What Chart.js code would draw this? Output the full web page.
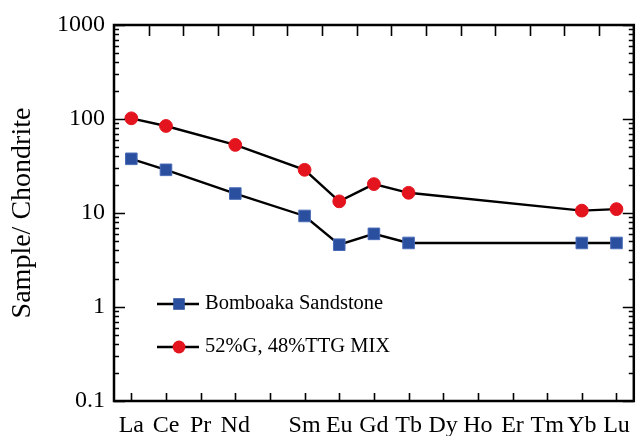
<!DOCTYPE html>
<html>
<head>
<meta charset="utf-8">
<script src="https://cdn.jsdelivr.net/npm/chart.js@4"></script>
<style>
html,body{margin:0;padding:0;background:#fff;}
#wrap{width:643px;height:436px;}
</style>
</head>
<body>
<div id="wrap"><canvas id="c" width="643" height="436"></canvas></div>
<script>
const elements = ["La","Ce","Pr","Nd","Pm","Sm","Eu","Gd","Tb","Dy","Ho","Er","Tm","Yb","Lu"];
const elementLabels = ["La","Ce","Pr","Nd","","Sm","Eu","Gd","Tb","Dy","Ho","Er","Tm","Yb","Lu"];
const bomboaka = [37.7, 28.8, null, 16.1, null, 9.3, 4.6, 6.0, 4.8, null, null, null, null, 4.8, 4.8];
const mix = [101.7, 84.3, null, 53, null, 28.8, 13.3, 20.3, 16.4, null, null, null, null, 10.6, 11.0];
const yMajorTicks = [0.1, 1, 10, 100, 1000];
const seriesNames = ["Bomboaka Sandstone", "52%G, 48%TTG MIX"];

const SERIF = "'Liberation Serif', 'DejaVu Serif', serif";

const framePlugin = {
  id: 'frame',
  afterDatasetsDraw(chart) {
    const ctx = chart.ctx, a = chart.chartArea;
    const y = chart.scales.y, x = chart.scales.x;
    ctx.save();
    ctx.strokeStyle = '#000';
    ctx.lineWidth = 2.5;
    ctx.strokeRect(a.left, a.top, a.right - a.left, a.bottom - a.top);
    ctx.lineWidth = 1.6;
    ctx.beginPath();
    for (let e = -1; e <= 3; e++) {
      for (let m = 1; m <= 9; m++) {
        const v = m * Math.pow(10, e);
        if (v > 1000.0001) break;
        const py = Math.round(y.getPixelForValue(v)) + 0.5;
        const len = m === 1 ? 11 : 5;
        ctx.moveTo(a.left, py); ctx.lineTo(a.left + len, py);
        ctx.moveTo(a.right, py); ctx.lineTo(a.right - len, py);
      }
    }
    for (let i = 0; i < elements.length; i++) {
      const px = Math.round(x.getPixelForValue(i)) + 0.5;
      ctx.moveTo(px, a.bottom); ctx.lineTo(px, a.bottom - 8);
    }
    for (let i = 0; i < elements.length - 1; i++) {
      const px = Math.round((x.getPixelForValue(i) + x.getPixelForValue(i + 1)) / 2) + 0.5;
      ctx.moveTo(px, a.top); ctx.lineTo(px, a.top + 11);
    }
    ctx.stroke();
    ctx.restore();
  },
  afterDraw(chart) {
    const ctx = chart.ctx;
    const rows = [[157, 199, 304], [157, 199, 347]];
    ctx.save();
    chart.data.datasets.forEach((ds, i) => {
      const [x0, x1, yy] = rows[i];
      ctx.strokeStyle = '#000';
      ctx.lineWidth = 2.4;
      ctx.beginPath(); ctx.moveTo(x0, yy); ctx.lineTo(x1, yy); ctx.stroke();
      const cx = (x0 + x1) / 2 + 1;
      ctx.fillStyle = ds.pointBackgroundColor;
      ctx.beginPath();
      if (ds.pointStyle === 'rect') {
        ctx.rect(cx - 5.8, yy - 5.8, 11.6, 11.6);
      } else {
        ctx.arc(cx, yy, 6.4, 0, Math.PI * 2);
      }
      ctx.fill();
      ctx.fillStyle = '#000';
      ctx.font = "20.5px " + SERIF;
      ctx.textBaseline = 'middle';
      ctx.textAlign = 'left';
      ctx.fillText(ds.label, 205, yy);
    });
    ctx.restore();
  }
};

new Chart(document.getElementById('c'), {
  type: 'line',
  data: {
    labels: elementLabels,
    datasets: [
      {
        label: seriesNames[0],
        data: bomboaka,
        borderColor: '#000',
        borderWidth: 2.4,
        pointStyle: 'rect',
        pointRadius: 8.2,
        pointHoverRadius: 8.2,
        pointBackgroundColor: '#2a4f9e',
        pointBorderColor: '#4a6cb8',
        pointBorderWidth: 1,
        spanGaps: true,
        tension: 0
      },
      {
        label: seriesNames[1],
        data: mix,
        borderColor: '#000',
        borderWidth: 2.4,
        pointStyle: 'circle',
        pointRadius: 6.4,
        pointHoverRadius: 6.4,
        pointBackgroundColor: '#e3141d',
        pointBorderColor: '#e3141d',
        pointBorderWidth: 1,
        spanGaps: true,
        tension: 0
      }
    ]
  },
  options: {
    responsive: false,
    animation: false,
    devicePixelRatio: 1,
    layout: { padding: { top: 25, right: 2, left: 0, bottom: 0 } },
    plugins: { legend: { display: false }, tooltip: { enabled: false } },
    scales: {
      x: {
        type: 'category',
        offset: true,
        grid: { display: false, drawTicks: false },
        border: { display: false },
        ticks: {
          color: '#000',
          font: { family: SERIF, size: 24 },
          padding: 10,
          autoSkip: false,
          maxRotation: 0
        },
        afterFit(s) { s.height = 35; }
      },
      y: {
        type: 'logarithmic',
        min: 0.1,
        max: 1000,
        grid: { display: false, drawTicks: false },
        border: { display: false },
        afterBuildTicks(s) { s.ticks = yMajorTicks.map(v => ({ value: v, major: true })); },
        ticks: {
          color: '#000',
          font: { family: SERIF, size: 24 },
          padding: 9,
          autoSkip: false,
          callback: (v) => String(v)
        },
        title: {
          display: true,
          text: 'Sample/ Chondrite',
          color: '#000',
          font: { family: SERIF, size: 28 },
          padding: { top: 6, bottom: 2 }
        },
        afterFit(s) { s.width = 114; }
      }
    }
  },
  plugins: [framePlugin]
});
</script>
</body>
</html>
